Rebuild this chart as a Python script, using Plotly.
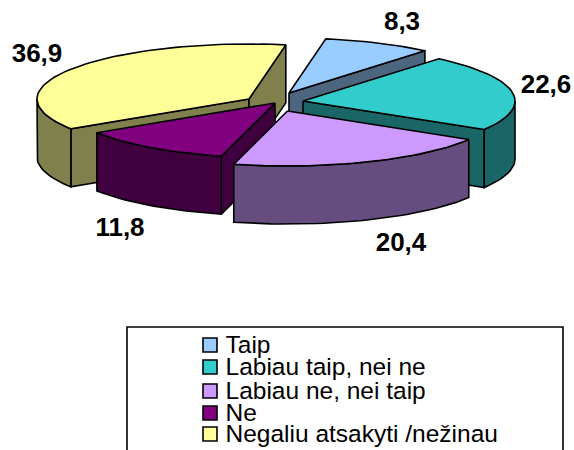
import math
import plotly.graph_objects as go

categories = ["Taip", "Labiau taip, nei ne", "Labiau ne, nei taip", "Ne", "Negaliu atsakyti /nežinau"]
values = [8.3, 22.6, 20.4, 11.8, 36.9]
value_labels = ["8,3", "22,6", "20,4", "11,8", "36,9"]
top_colors = ["#99CCFF", "#33CCCC", "#CC99FF", "#800080", "#FFFF99"]
side_colors = ["#4D6680", "#1A6666", "#664D80", "#400040", "#80804D"]

# pie geometry in page pixels
START = 10.0
RX, RY, DEPTH = 212.0, 55.0, 58.0
centres = [(289, 93), (303, 101), (287.5, 111), (275, 103), (249, 99)]
label_pos = [(402, 23), (546, 86), (401, 244), (120, 229), (37, 55)]
legend_y = [345, 367, 391, 413, 434]
legend_text_y = [346.5, 368.5, 392.5, 414.5, 435.5]
draw_order = [0, 4, 1, 3, 2]
total = sum(values)

fig = go.Figure()


def poly(xs, ys, color):
    fig.add_trace(go.Scatter(
        x=xs + xs[:1], y=ys + ys[:1], mode="lines", fill="toself", fillcolor=color,
        line=dict(color="#000000", width=1.6), hoverinfo="skip", showlegend=False))


def pt(c, a, dy=0.0):
    r = math.radians(a)
    return c[0] + RX * math.sin(r), c[1] - RY * math.cos(r) + dy


angles = []
acc = START
for v in values:
    angles.append((acc, acc + v / total * 360))
    acc += v / total * 360


def arc(c, a, b, dy=0.0):
    n = max(2, int(abs(b - a) / 2))
    return [pt(c, a + (b - a) * i / n, dy) for i in range(n + 1)]


for i in draw_order:
    a1, a2 = angles[i]
    c = centres[i]
    top, side = top_colors[i], side_colors[i]
    if math.sin(math.radians(a1)) < 0:
        p = pt(c, a1)
        poly([c[0], p[0], p[0], c[0]], [c[1], p[1], p[1] + DEPTH, c[1] + DEPTH], side)
    if math.sin(math.radians(a2)) > 0:
        p = pt(c, a2)
        poly([c[0], p[0], p[0], c[0]], [c[1], p[1], p[1] + DEPTH, c[1] + DEPTH], side)
    f1, f2 = max(a1, 90), min(a2, 270)
    if f2 > f1:
        up = arc(c, f1, f2)
        dn = arc(c, f2, f1, DEPTH)
        pts = up + dn
        poly([q[0] for q in pts], [q[1] for q in pts], side)
    pts = [c] + arc(c, a1, a2)
    poly([q[0] for q in pts], [q[1] for q in pts], top)

fig.add_trace(go.Scatter(
    x=[p[0] for p in label_pos], y=[p[1] for p in label_pos], text=value_labels, mode="text",
    textposition="middle center", hoverinfo="skip", showlegend=False,
    textfont=dict(family="Liberation Sans", size=26, color="#000000", weight="bold")))

fig.add_trace(go.Scatter(
    x=[210] * 5, y=legend_y, mode="markers", hoverinfo="skip", showlegend=False,
    marker=dict(symbol="square", size=14, color=top_colors, line=dict(color="#000000", width=1.6))))
fig.add_trace(go.Scatter(
    x=[225.5] * 5, y=legend_text_y, text=categories, mode="text", textposition="middle right",
    hoverinfo="skip", showlegend=False,
    textfont=dict(family="Liberation Sans", size=24.5, color="#000000")))

fig.update_layout(
    width=574, height=450, margin=dict(l=0, r=0, t=0, b=0), autosize=False,
    paper_bgcolor="#FFFFFF", plot_bgcolor="#FFFFFF",
    xaxis=dict(range=[0, 574], visible=False, fixedrange=True),
    yaxis=dict(range=[450, 0], visible=False, fixedrange=True),
    shapes=[dict(type="rect", xref="x", yref="y", x0=127, y0=327, x1=563, y1=455,
                 line=dict(color="#000000", width=1.6), fillcolor="rgba(0,0,0,0)", layer="below")],
)
fig.write_html("out.html", config=dict(displayModeBar=False),
               post_script="document.documentElement.style.overflow='hidden';document.body.style.margin='0';document.body.style.overflow='hidden';")
